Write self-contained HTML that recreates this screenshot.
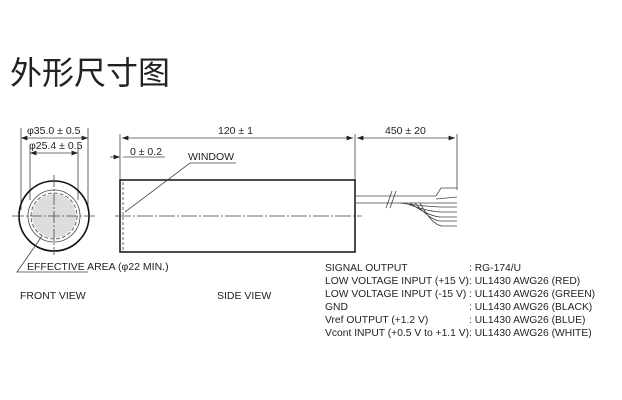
<!DOCTYPE html>
<html><head><meta charset="utf-8"><style>
html,body{margin:0;padding:0;background:#fff;}
body{width:622px;height:400px;position:relative;overflow:hidden;font-family:"Liberation Sans",Arial,sans-serif;}
.t{position:absolute;font-size:32px;left:10px;top:48px;color:#222;font-family:"Liberation Sans","Noto Sans CJK SC",sans-serif;}
svg{position:absolute;left:0;top:0;}
text{font-family:"Liberation Sans",Arial,sans-serif;fill:#222;}
</style></head><body>
<div class="t">外形尺寸图</div>
<svg width="622" height="400" viewBox="0 0 622 400">
<defs><marker id="a" markerWidth="8" markerHeight="6" refX="8" refY="3" orient="auto-start-reverse"><path d="M0,0L8,3L0,6z" fill="#222"/></marker></defs>
<g stroke="#444" stroke-width="0.8" fill="none">
<line x1="21" y1="128" x2="21" y2="210"/><line x1="88" y1="128" x2="88" y2="210"/>
<line x1="21" y1="138" x2="88" y2="138" marker-start="url(#a)" marker-end="url(#a)"/>
<line x1="30" y1="146" x2="30" y2="200"/><line x1="78" y1="146" x2="78" y2="200"/>
<line x1="30" y1="153" x2="78" y2="153" marker-start="url(#a)" marker-end="url(#a)"/>
<circle cx="54" cy="216" r="22" fill="#ddd" stroke="none"/>
<circle cx="54" cy="216" r="35" stroke="#111" stroke-width="1.6"/>
<circle cx="54" cy="216" r="26"/>
<circle cx="54" cy="216" r="23" stroke-dasharray="4,2"/>
<line x1="12" y1="216" x2="95" y2="216" stroke-dasharray="12,2,2,2"/>
<line x1="54" y1="175" x2="54" y2="255" stroke-dasharray="12,2,2,2"/>
<polyline points="42,236 17,272 88,272"/>
<line x1="120" y1="134" x2="120" y2="180"/><line x1="355" y1="134" x2="355" y2="196"/>
<line x1="122" y1="138" x2="353" y2="138" marker-start="url(#a)" marker-end="url(#a)"/>
<line x1="110" y1="157" x2="120" y2="157" marker-end="url(#a)"/>
<polyline points="123,157 165,157" />
<rect x="120" y="180" width="235" height="72" stroke="#111" stroke-width="1.5"/>
<line x1="123" y1="182" x2="123" y2="250" stroke-dasharray="3,2"/>
<line x1="115" y1="216" x2="362" y2="216" stroke-dasharray="16,2,2,2"/>
<polyline points="236,163 190,163 125,212"/>
<line x1="457" y1="134" x2="457" y2="190"/>
<line x1="357" y1="138" x2="455" y2="138" marker-start="url(#a)" marker-end="url(#a)"/>
<line x1="355" y1="196" x2="436" y2="196"/><line x1="355" y1="203" x2="436" y2="203"/>
<line x1="386" y1="208" x2="392" y2="191"/><line x1="390" y1="208" x2="396" y2="191"/>
<path d="M436,196 L441,188 L457,188 M436,203 L457,203 M436,199 L457,197"/>
<path d="M400,203 Q420,206 440,207 L457,207 M405,203 Q425,211 440,212 L457,212 M410,203 Q428,216 440,217 L457,217 M415,203 Q430,220 440,221 L457,221 M420,203 Q432,225 442,226 L457,226"/>
</g>
<g font-size="10.5">
<text x="27" y="134">φ35.0 ± 0.5</text>
<text x="29" y="149">φ25.4 ± 0.5</text>
<text x="218" y="134">120 ± 1</text>
<text x="130" y="155">0 ± 0.2</text>
<text x="188" y="160">WINDOW</text>
<text x="385" y="134">450 ± 20</text>
<text x="27" y="270">EFFECTIVE AREA (φ22 MIN.)</text>
<text x="20" y="299">FRONT VIEW</text>
<text x="217" y="299">SIDE VIEW</text>
</g>
<g font-size="10.3">
<text x="325" y="271">SIGNAL OUTPUT</text><text x="469" y="271">: RG-174/U</text>
<text x="325" y="284">LOW VOLTAGE INPUT (+15 V)</text><text x="469" y="284">: UL1430 AWG26 (RED)</text>
<text x="325" y="297">LOW VOLTAGE INPUT (-15 V)</text><text x="469" y="297">: UL1430 AWG26 (GREEN)</text>
<text x="325" y="310">GND</text><text x="469" y="310">: UL1430 AWG26 (BLACK)</text>
<text x="325" y="323">Vref OUTPUT (+1.2 V)</text><text x="469" y="323">: UL1430 AWG26 (BLUE)</text>
<text x="325" y="336">Vcont INPUT (+0.5 V to +1.1 V)</text><text x="469" y="336">: UL1430 AWG26 (WHITE)</text>
</g>
</svg>
</body></html>
